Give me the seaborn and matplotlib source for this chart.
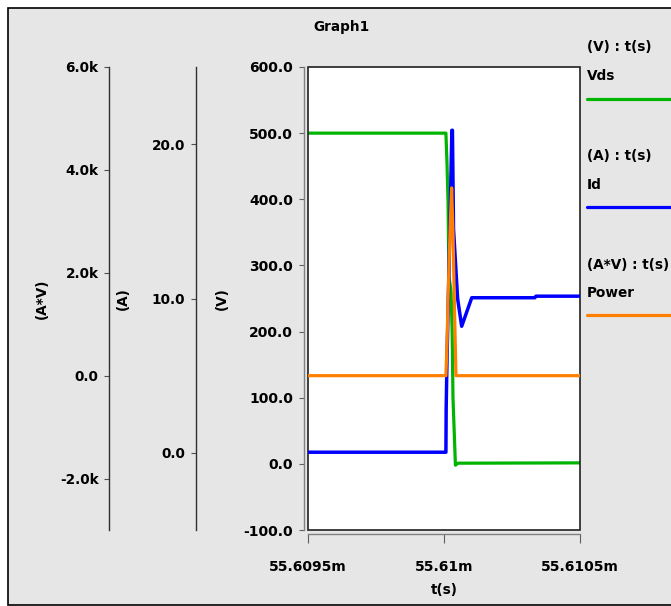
import matplotlib
matplotlib.use("Agg")
import matplotlib.pyplot as plt
import seaborn as sns
import numpy as np
from matplotlib.patches import Rectangle
from matplotlib.lines import Line2D

# ---------------- data (time in ms) ----------------
t_vds = [55.6095, 55.610007, 55.610011, 55.610015, 55.610018, 55.610026,
         55.610030, 55.610033, 55.610042, 55.610051, 55.6105]
vds = [500, 500, 455, 395, 284, 260, 200, 100, -2, 1.0, 1.5]

t_id = [55.6095, 55.610007, 55.610008, 55.610011, 55.610022, 55.610029,
        55.610031, 55.610035, 55.610050, 55.610065, 55.610102, 55.610334,
        55.610338, 55.6105]
i_d = [0.04, 0.04, 2.9, 6.0, 15.0, 20.9, 20.9, 14.5, 10.0, 8.2, 10.05, 10.05,
       10.15, 10.15]

t_pw = [55.6095, 55.610007, 55.610011, 55.610015, 55.610022, 55.610028,
        55.610033, 55.610039, 55.610044, 55.6105]
power = [0, 0, 600, 1500, 2800, 3650, 2800, 1200, 0, 0]

x_ticks = [55.6095, 55.61, 55.6105]
x_ticklabels = ["55.6095m", "55.61m", "55.6105m"]
v_ticks = [-100, 0, 100, 200, 300, 400, 500, 600]
v_ticklabels = ["-100.0", "0.0", "100.0", "200.0", "300.0", "400.0", "500.0", "600.0"]
a_ticks = [0, 10, 20]
a_ticklabels = ["0.0", "10.0", "20.0"]
p_ticks = [-2000, 0, 2000, 4000, 6000]
p_ticklabels = ["-2.0k", "0.0", "2.0k", "4.0k", "6.0k"]

legend_groups = [("(V) : t(s)", "Vds"), ("(A) : t(s)", "Id"), ("(A*V) : t(s)", "Power")]

C_V = "#00b400"
C_A = "#0000ff"
C_P = "#ff8000"

# ---------------- style ----------------
sns.set_style("white")
plt.rcParams["font.family"] = ["DejaVu Sans"]
plt.rcParams["font.weight"] = "bold"
plt.rcParams["text.color"] = "black"
plt.rcParams["axes.labelcolor"] = "black"
plt.rcParams["xtick.color"] = "black"
plt.rcParams["ytick.color"] = "black"
FS = 9.8

W, H = 671, 606
fig = plt.figure(figsize=(W / 100, H / 100), dpi=100)
fig.patch.set_facecolor("white")

def fx(px):
    return px / W

def fy(py):
    return 1 - py / H

# grey panel with black border
bg = Rectangle((fx(8), fy(605)), 1.0, fy(8) - fy(605), transform=fig.transFigure,
               facecolor="#e6e6e6", edgecolor="black", linewidth=1.2, zorder=-5)
fig.add_artist(bg)

L, R, T, B = 308, 580, 67, 530
ax = fig.add_axes([fx(L), fy(B), fx(R) - fx(L), fy(T) - fy(B)])
ax.set_facecolor("white")
ax_a = ax.twinx()
ax_p = ax.twinx()

sns.lineplot(x=t_vds, y=vds, ax=ax, color=C_V, linewidth=2.3, estimator=None, sort=False)
sns.lineplot(x=t_id, y=i_d, ax=ax_a, color=C_A, linewidth=2.5, estimator=None, sort=False)
sns.lineplot(x=t_pw, y=power, ax=ax_p, color=C_P, linewidth=2.3, estimator=None, sort=False)

ax.set_xlim(55.6095, 55.6105)
ax.set_ylim(-100, 600)
ax_a.set_ylim(-5, 25)
ax_p.set_ylim(-3000, 6000)

# main axis
ax.set_xticks(x_ticks)
ax.set_xticklabels(x_ticklabels, fontsize=FS, fontweight="bold", color="black")
ax.set_yticks(v_ticks)
ax.set_yticklabels(v_ticklabels, fontsize=FS, fontweight="bold", color="black")
for s in ("top", "right"):
    ax.spines[s].set_visible(False)
for s in ("left", "bottom"):
    ax.spines[s].set_position(("outward", 2.9))
    ax.spines[s].set_color("#808080")
    ax.spines[s].set_linewidth(1.0)
ax.tick_params(axis="y", direction="out", length=3.6, width=0.8, color="#606060",
               labelcolor="black", pad=4.3, left=True)
ax.tick_params(axis="x", direction="out", length=6.5, width=0.8, color="#606060",
               labelcolor="black", pad=12, bottom=True)
ax.add_patch(Rectangle((0, 0), 1, 1, transform=ax.transAxes, fill=False,
                       edgecolor="#202020", linewidth=1.2, clip_on=False, zorder=10))

ax.set_xlabel("t(s)", fontsize=FS, fontweight="bold", color="black")
ax.xaxis.set_label_coords(0.5, (B - 590) / (B - T))
ax.xaxis.label.set_va("center")

ax.set_ylabel("(V)", fontsize=FS, fontweight="bold", color="black")
ax.yaxis.set_label_coords((222 - L) / (R - L), 0.5)
ax.yaxis.label.set_va("center")

# secondary axes on the left
for a, xpos, ticks, labels, lab, labx in (
        (ax_a, 196, a_ticks, a_ticklabels, "(A)", 123),
        (ax_p, 109.3, p_ticks, p_ticklabels, "(A*V)", 41.7)):
    for s in ("top", "right", "bottom"):
        a.spines[s].set_visible(False)
    a.spines["left"].set_visible(True)
    a.spines["left"].set_position(("axes", (xpos - L) / (R - L)))
    a.spines["left"].set_color("#303030")
    a.spines["left"].set_linewidth(1.0)
    a.yaxis.set_ticks_position("left")
    a.yaxis.set_label_position("left")
    a.set_yticks(ticks)
    a.set_yticklabels(labels, fontsize=FS, fontweight="bold", color="black")
    a.tick_params(axis="y", direction="out", length=3.4, width=0.8, color="#505050",
                  labelcolor="black", pad=4.3)
    a.set_ylabel(lab, fontsize=FS, fontweight="bold", color="black")
    a.yaxis.set_label_coords((labx - L) / (R - L), 0.5)
    a.yaxis.label.set_va("center")

# title
fig.text(fx(342), fy(27), "Graph1", ha="center", va="center", fontsize=FS,
         fontweight="bold", color="black")

# legend on the right
legend_y = [(47, 76, 99), (156, 185, 207), (265, 293, 315)]
for (head, name), (y1, y2, y3), c in zip(legend_groups, legend_y, (C_V, C_A, C_P)):
    fig.text(fx(587), fy(y1), head, ha="left", va="center", fontsize=FS,
             fontweight="bold", color="black")
    fig.text(fx(587), fy(y2), name, ha="left", va="center", fontsize=FS,
             fontweight="bold", color="black")
    fig.add_artist(Line2D([fx(587), 1.02], [fy(y3), fy(y3)], transform=fig.transFigure,
                          color=c, linewidth=2.3))

fig.savefig("out.png", dpi=100)
